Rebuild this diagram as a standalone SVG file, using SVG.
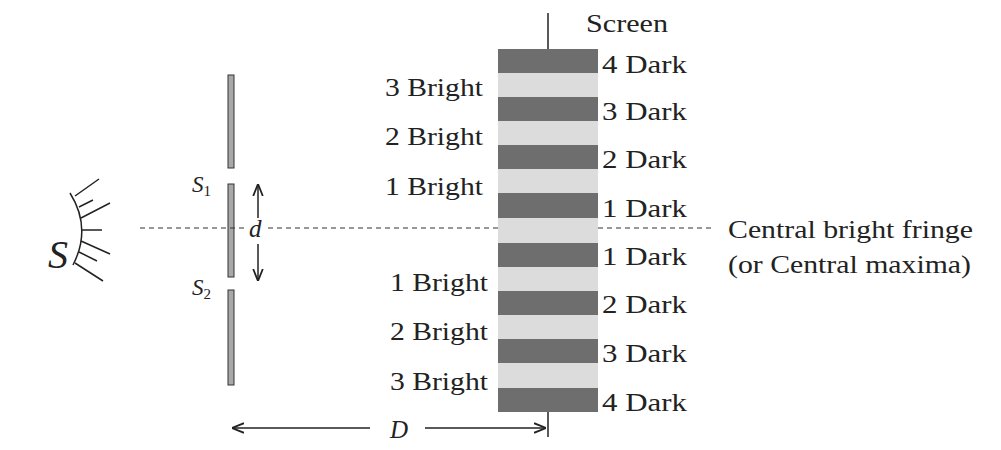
<svg xmlns="http://www.w3.org/2000/svg" width="1001" height="450" viewBox="0 0 1001 450">
<style>
text{font-family:"Liberation Serif","Tinos","Times New Roman","DejaVu Serif",serif;font-size:25px;fill:#222}
.it{font-style:italic}
.dk{fill:#6e6e6e}
.slit{fill:#a8a8a8;stroke:#333;stroke-width:1}
.ln{stroke:#222;stroke-width:1.5;fill:none}
.dash{stroke:#333;stroke-width:1.2;stroke-dasharray:5,4}
</style>
<defs>
<marker id="ah" viewBox="0 0 10 10" refX="10" refY="5" markerWidth="8" markerHeight="8" orient="auto-start-reverse"><path d="M0,1 L10,5 L0,9" fill="none" stroke="#222" stroke-width="1.5"/></marker>
</defs>
<rect width="1001" height="450" fill="#fff"/>
<g id="source">
<path class="ln" d="M70,193 Q92,228 73,265"/>
<path class="ln" d="M75,196 L99,179 M79,207 L93,200 M81,218 L110,203 M82,230 L102,230 M81,241 L110,254 M79,252 L97,261 M75,263 L103,281"/>
<text x="48" y="268" class="it" style="font-size:40px">S</text>
</g>
<g id="slits">
<rect class="slit" x="228" y="75" width="6" height="93"/>
<rect class="slit" x="228" y="184" width="6" height="93"/>
<rect class="slit" x="228" y="290" width="6" height="95"/>
<text x="192" y="192" class="it" style="font-size:23px">S<tspan style="font-size:15px;font-style:normal" dy="4">1</tspan></text>
<text x="192" y="295" class="it" style="font-size:23px">S<tspan style="font-size:15px;font-style:normal" dy="4">2</tspan></text>
<text x="249" y="237" class="it">d</text>
</g>
<g id="screen">
<rect x="498" y="49" width="100" height="363" fill="#dcdcdc"/>
<rect class="dk" x="498" y="49" width="100" height="24"/>
<rect class="dk" x="498" y="97" width="100" height="24"/>
<rect class="dk" x="498" y="145" width="100" height="24"/>
<rect class="dk" x="498" y="193" width="100" height="25"/>
<rect class="dk" x="498" y="243" width="100" height="24"/>
<rect class="dk" x="498" y="291" width="100" height="24"/>
<rect class="dk" x="498" y="339" width="100" height="24"/>
<rect class="dk" x="498" y="388" width="100" height="24"/>
<line class="ln" x1="548" y1="13" x2="548" y2="49" stroke-width="2.5"/>
<line class="ln" x1="548" y1="412" x2="548" y2="437" stroke-width="2.5"/>
<text x="586" y="32" textLength="82" lengthAdjust="spacingAndGlyphs">Screen</text>
</g>
<g id="labels">
<text x="602" y="73" textLength="85" lengthAdjust="spacingAndGlyphs">4 Dark</text>
<text x="602" y="120" textLength="85" lengthAdjust="spacingAndGlyphs">3 Dark</text>
<text x="602" y="168" textLength="85" lengthAdjust="spacingAndGlyphs">2 Dark</text>
<text x="602" y="217" textLength="85" lengthAdjust="spacingAndGlyphs">1 Dark</text>
<text x="602" y="265" textLength="85" lengthAdjust="spacingAndGlyphs">1 Dark</text>
<text x="602" y="313" textLength="85" lengthAdjust="spacingAndGlyphs">2 Dark</text>
<text x="602" y="362" textLength="85" lengthAdjust="spacingAndGlyphs">3 Dark</text>
<text x="602" y="411" textLength="85" lengthAdjust="spacingAndGlyphs">4 Dark</text>
<text x="385" y="96" textLength="98" lengthAdjust="spacingAndGlyphs">3 Bright</text>
<text x="385" y="145" textLength="98" lengthAdjust="spacingAndGlyphs">2 Bright</text>
<text x="385" y="195" textLength="98" lengthAdjust="spacingAndGlyphs">1 Bright</text>
<text x="390" y="291" textLength="98" lengthAdjust="spacingAndGlyphs">1 Bright</text>
<text x="390" y="340" textLength="98" lengthAdjust="spacingAndGlyphs">2 Bright</text>
<text x="390" y="390" textLength="98" lengthAdjust="spacingAndGlyphs">3 Bright</text>
<text x="728" y="238" textLength="245" lengthAdjust="spacingAndGlyphs">Central bright fringe</text>
<text x="728" y="273" textLength="243" lengthAdjust="spacingAndGlyphs">(or Central maxima)</text>
<text x="390" y="438" class="it">D</text>
</g>
<g id="connectors">
<line class="dash" x1="140" y1="228" x2="246" y2="228"/>
<line class="dash" x1="268" y1="228" x2="498" y2="228"/>
<line class="dash" x1="598" y1="228" x2="715" y2="228"/>
<line class="ln" x1="258" y1="218" x2="258" y2="184" marker-end="url(#ah)"/>
<line class="ln" x1="258" y1="244" x2="258" y2="281" marker-end="url(#ah)"/>
<line class="ln" x1="370" y1="428" x2="232" y2="428" marker-end="url(#ah)"/>
<line class="ln" x1="425" y1="428" x2="546" y2="428" marker-end="url(#ah)"/>
</g>
</svg>
